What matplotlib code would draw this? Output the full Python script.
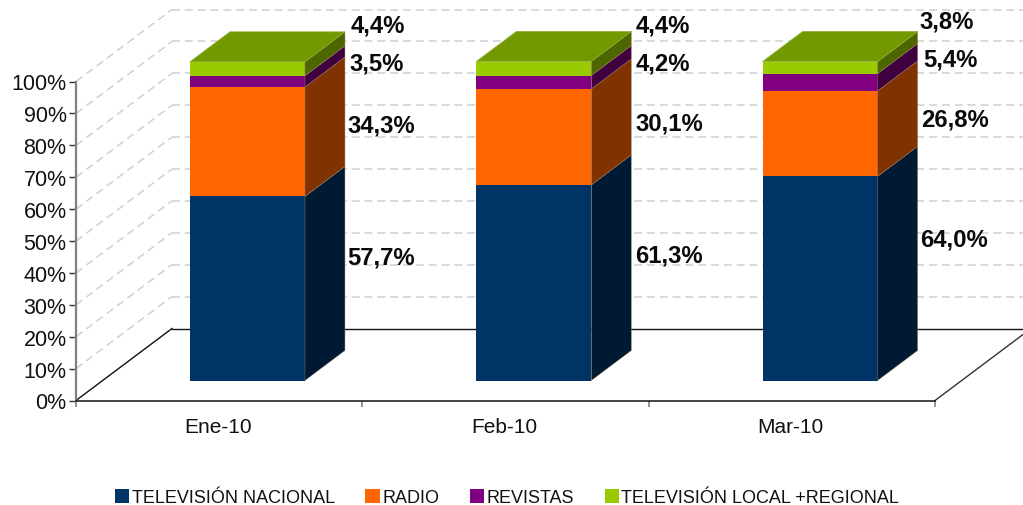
import matplotlib
matplotlib.use("Agg")
import matplotlib.pyplot as plt
from matplotlib.patches import Patch

plt.rcParams['font.family'] = ['Liberation Sans', 'DejaVu Sans']

# --- data ---
categories = ["Ene-10", "Feb-10", "Mar-10"]
series_names = ["TELEVISIÓN NACIONAL", "RADIO", "REVISTAS", "TELEVISIÓN LOCAL +REGIONAL"]
tv_nacional = [57.7, 61.3, 64.0]
radio = [34.3, 30.1, 26.8]
revistas = [3.5, 4.2, 5.4]
tv_local = [4.4, 4.4, 3.8]
series_values = [tv_nacional, radio, revistas, tv_local]

# --- styling / layout ---
W, H = 1023, 506
front_colors = ["#003366", "#FF6600", "#800080", "#99CC00"]
side_colors = ["#001A33", "#803300", "#400040", "#4D6600"]
top_color = "#739900"
label_px = [[(347, 258), (347, 126), (349, 64), (351, 26)],
            [(635, 256), (635, 124), (636, 64), (636, 26)],
            [(920, 240), (921, 120), (923, 60), (919, 22)]]

fig = plt.figure(figsize=(W / 100, H / 100), dpi=100)
ax = fig.add_axes([76 / W, (H - 401.5) / H, 859 / W, 319 / H])
ax.set_xlim(0, 3)
ax.set_ylim(0, 100)
ax.patch.set_visible(False)

# 3D projection: depth offsets expressed in data units
px_x = 3 / 859
px_y = 100 / 319
floor_dx, floor_dy = 96 * px_x, 72 * px_y
bar_off_x, bar_off_y = 28.3 * px_x, 20 * px_y
bar_dx, bar_dy = 40 * px_x, 30 * px_y
bar_w = 115 * px_x

grid_kw = dict(color="#D0D0D0", lw=1.1, dashes=(5.2, 3.2), clip_on=False, zorder=1)
right_end = 3 + 88 * px_x
for y in range(0, 101, 10):
    if y > 0:
        ax.plot([0, floor_dx], [y, y + floor_dy], **grid_kw)
        ax.plot([floor_dx, right_end], [y + floor_dy, y + floor_dy], **grid_kw)
# floor
ax.plot([0, floor_dx], [0, floor_dy], color="#111111", lw=1, clip_on=False, zorder=2)
ax.plot([floor_dx, right_end], [floor_dy, floor_dy], color="#111111", lw=1, clip_on=False, zorder=2)
ax.plot([3, right_end], [0, 66 * px_y], color="#333333", lw=1, clip_on=False, zorder=2)

for i in range(len(categories)):
    x0 = i + 0.5 + bar_off_x - bar_w / 2
    x1 = x0 + bar_w
    base = bar_off_y
    for vals, fc, sc in zip(series_values, front_colors, side_colors):
        v = vals[i]
        ax.bar(x0, v, width=bar_w, bottom=base, align="edge", color=fc, clip_on=False, zorder=4)
        ax.fill([x1, x1 + bar_dx, x1 + bar_dx, x1],
                [base, base + bar_dy, base + v + bar_dy, base + v],
                facecolor=sc, edgecolor="#A08060", lw=0.3, clip_on=False, zorder=4)
        base += v
    ax.fill([x0, x1, x1 + bar_dx, x0 + bar_dx],
            [base, base, base + bar_dy, base + bar_dy],
            facecolor=top_color, edgecolor="#8DB030", lw=0.5, clip_on=False, zorder=5)

# axes furniture
for s in ("top", "right"):
    ax.spines[s].set_visible(False)
ax.spines["left"].set_color("#808080")
ax.spines["left"].set_linewidth(1.6)
ax.spines["bottom"].set_color("#111111")
ax.spines["bottom"].set_linewidth(1.1)
ax.set_yticks(range(0, 101, 10))
ax.set_yticklabels([f"{y}%" for y in range(0, 101, 10)], fontsize=15.5, color="#111111")
ax.tick_params(axis="y", length=5, width=1, color="#333333", pad=1.8)
ax.set_xticks([0, 1, 2, 3])
ax.set_xticklabels([])
ax.tick_params(axis="x", length=4, width=1.2, color="#808080")
for i, c in enumerate(categories):
    ax.text(i + 0.5 - 1.5 * px_x, -5.2, c, ha="center", va="top", fontsize=15, color="#111111", clip_on=False)

# value labels
for i in range(len(categories)):
    for j, vals in enumerate(series_values):
        px, py = label_px[i][j]
        fig.text(px / W, 1 - py / H, f"{vals[i]:.1f}".replace(".", ",") + "%",
                 ha="left", va="center", fontsize=17.2, fontweight="bold", color="#0A0A0A")

# legend
handles = [Patch(facecolor=c) for c in front_colors]
fig.legend(handles, series_names, loc="center", bbox_to_anchor=(507 / W, 1 - 498.5 / H), ncol=4,
           frameon=False, fontsize=13.0, handlelength=0.78, handleheight=0.78,
           handletextpad=0.14, columnspacing=1.7, labelcolor="#111111", borderpad=0, borderaxespad=0)

fig.savefig("out.png", dpi=100)
